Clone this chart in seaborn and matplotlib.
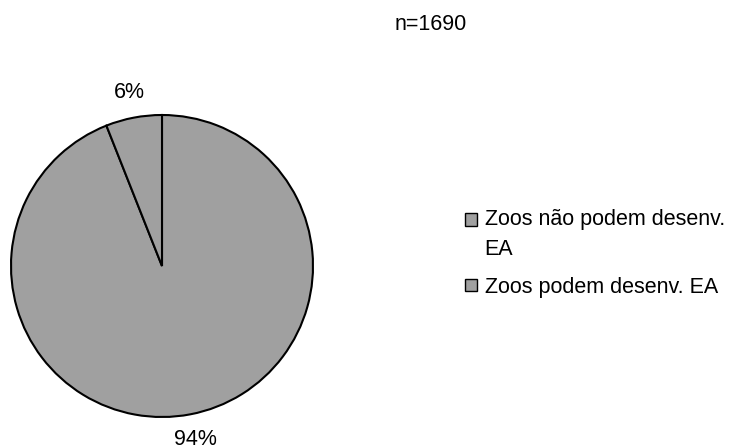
import matplotlib
matplotlib.use("Agg")
import matplotlib.pyplot as plt
import matplotlib.patches as mpatches
from matplotlib.legend_handler import HandlerPatch
import seaborn as sns

categories = ["Zoos não podem desenv.\nEA", "Zoos podem desenv. EA"]
values = [94, 6]
pct_labels = ["94%", "6%"]
title_text = "n=1690"

sns.set_theme(style="white")
plt.rcParams['font.family'] = ['Liberation Sans', 'DejaVu Sans']
plt.rcParams['text.color'] = 'black'

colors = ["#a0a0a0", "#a0a0a0"]
FS = 15.5

fig = plt.figure(figsize=(7.33, 4.45), dpi=100)
ax = fig.add_axes([162/733 - 151/733, (445-417)/445, 302/733, 302/445])
wedges, texts = ax.pie(values, labels=pct_labels, colors=colors, startangle=90,
                       counterclock=False, radius=1.0, labeldistance=1.17,
                       wedgeprops=dict(edgecolor="black", linewidth=1.5),
                       textprops=dict(fontsize=FS, color="black"))
for t in texts:
    t.set_horizontalalignment("center")
    t.set_verticalalignment("center")
ax.set_xlim(-1, 1)
ax.set_ylim(-1, 1)
ax.set_aspect("equal")
ax.axis("off")

fig.text(431/733, 1 - 24.5/445, title_text, ha="center", va="center", fontsize=FS, color="black")


def make_patch_func(dy_pt):
    def f(legend, orig_handle, xdescent, ydescent, width, height, fontsize):
        return mpatches.Rectangle((-xdescent, -ydescent + dy_pt), width, height)
    return f


handles = [mpatches.Patch(facecolor=c, edgecolor="black", linewidth=1) for c in colors]
hmap = {handles[0]: HandlerPatch(patch_func=make_patch_func(10.8)),
        handles[1]: HandlerPatch(patch_func=make_patch_func(0))}
leg = fig.legend(handles, categories, loc="upper left", bbox_to_anchor=(465/733, 1 - 209/445),
                 frameon=False, fontsize=FS, handlelength=0.58, handleheight=0.52,
                 handletextpad=0.33, labelspacing=0.78, borderpad=0, borderaxespad=0,
                 handler_map=hmap)
for t in leg.get_texts():
    t.set_linespacing(1.55)
    t.set_color("black")

fig.savefig("out.png", dpi=100, facecolor="white")
